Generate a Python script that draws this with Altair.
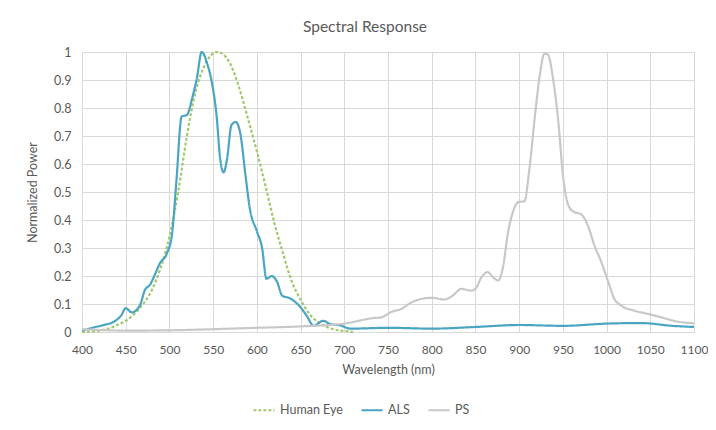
import altair as alt
import pandas as pd

# ALS response (wavelength nm, normalized power)
als_nm = [400, 413, 425, 436, 445, 450, 457, 466, 472, 478, 484, 489, 497, 503, 508, 514, 520, 526,
          531, 537, 543, 548, 554, 558, 562, 566, 571, 576, 581, 587, 592, 600, 606, 611, 617, 623,
          629, 638, 650, 657, 665, 676, 684, 695, 707, 750, 800, 850, 900, 950, 1000, 1040, 1075, 1100]
als_val = [0.005, 0.016, 0.025, 0.036, 0.06, 0.085, 0.07, 0.094, 0.15, 0.17, 0.21, 0.245, 0.28, 0.35,
           0.54, 0.77, 0.775, 0.835, 0.90, 1.0, 0.96, 0.90, 0.77, 0.62, 0.57, 0.62, 0.74, 0.75, 0.71,
           0.56, 0.44, 0.36, 0.30, 0.19, 0.20, 0.18, 0.13, 0.12, 0.088, 0.058, 0.022, 0.04, 0.028,
           0.024, 0.012, 0.015, 0.012, 0.018, 0.025, 0.022, 0.03, 0.032, 0.022, 0.018]

# PS response
ps_nm = [400, 450, 500, 550, 600, 650, 700, 734, 742, 754, 765, 777, 788, 800, 815, 824, 834, 845,
         850, 857, 864, 870, 876, 882, 887, 893, 899, 906, 912, 918, 924, 929, 933, 939, 945, 950,
         956, 962, 971, 979, 986, 994, 1002, 1009, 1017, 1032, 1048, 1063, 1078, 1100]
ps_val = [0.01, 0.005, 0.006, 0.01, 0.015, 0.02, 0.03, 0.05, 0.052, 0.072, 0.082, 0.106, 0.118,
          0.122, 0.116, 0.13, 0.154, 0.148, 0.154, 0.196, 0.214, 0.196, 0.184, 0.24, 0.35, 0.43,
          0.464, 0.467, 0.59, 0.77, 0.925, 0.995, 0.99, 0.90, 0.745, 0.564, 0.455, 0.43, 0.42,
          0.377, 0.31, 0.25, 0.178, 0.118, 0.094, 0.076, 0.064, 0.052, 0.039, 0.031]

# Human eye response
eye_nm = [400, 410, 420, 430, 440, 450, 460, 470, 480, 490, 500, 510, 520, 530, 540, 550, 555, 560,
          570, 580, 590, 600, 610, 620, 630, 640, 650, 660, 670, 680, 690, 700, 710]
eye_val = [0.0, 0.002, 0.005, 0.012, 0.025, 0.04, 0.065, 0.1, 0.15, 0.23, 0.34, 0.5, 0.7, 0.86,
           0.95, 0.995, 1.0, 0.995, 0.955, 0.87, 0.76, 0.645, 0.52, 0.39, 0.28, 0.18, 0.115, 0.065,
           0.035, 0.018, 0.008, 0.004, 0.0]

x_ticks = list(range(400, 1101, 50))
y_ticks = [round(i / 10, 1) for i in range(11)]

series_names = ["Human Eye", "ALS", "PS"]
series_colors = ["#a3c86b", "#4aa5c3", "#c8c8c8"]

rows = []
for nm, v in zip(eye_nm, eye_val):
    rows.append({"Wavelength": nm, "Power": v, "Series": "Human Eye"})
for nm, v in zip(als_nm, als_val):
    rows.append({"Wavelength": nm, "Power": v, "Series": "ALS"})
for nm, v in zip(ps_nm, ps_val):
    rows.append({"Wavelength": nm, "Power": v, "Series": "PS"})
df = pd.DataFrame(rows)

font = "Lato"
txt = "#595959"

chart = alt.Chart(df).mark_line(interpolate="monotone", strokeWidth=2.2).encode(
    x=alt.X("Wavelength:Q", title="Wavelength (nm)",
            scale=alt.Scale(domain=[400, 1100], nice=False, zero=False),
            axis=alt.Axis(values=x_ticks, tickCount=40, format="d", labelOverlap=False,
                          labelFlush=False, labelPadding=12, titlePadding=8, labelFontSize=12)),
    y=alt.Y("Power:Q", title="Normalized Power",
            scale=alt.Scale(domain=[0, 1], nice=False),
            axis=alt.Axis(values=y_ticks, tickCount=40, format="~g", labelOverlap=False,
                          labelFlush=False, labelPadding=11, titlePadding=14)),
    color=alt.Color("Series:N", title=None,
                    scale=alt.Scale(domain=series_names, range=series_colors),
                    legend=alt.Legend(orient="none", legendX=170, legendY=346, direction="horizontal",
                                      symbolType="stroke", symbolSize=450, symbolStrokeWidth=2,
                                      labelFontSize=12.5, labelColor=txt, labelFont=font,
                                      columnPadding=14)),
    strokeDash=alt.StrokeDash("Series:N", title=None,
                              scale=alt.Scale(domain=series_names, range=[[3, 2], [1, 0], [1, 0]]),
                              legend=None),
    order=alt.Order("Wavelength:Q"),
).properties(
    width=612, height=280,
    title=alt.TitleParams("Spectral Response", fontSize=15.5, font=font, color=txt,
                          fontWeight="normal", offset=11, dx=-23),
    padding={"left": 74, "top": 44, "right": 14, "bottom": 90},
    autosize=alt.AutoSizeParams(type="none"),
).configure_axis(
    grid=True, gridColor="#d9d9d9", domain=False, ticks=False,
    labelFont=font, labelFontSize=12.5, labelColor=txt,
    titleFont=font, titleFontSize=12.5, titleColor=txt, titleFontWeight="normal",
).configure_view(
    stroke="#d9d9d9"
)

chart.save("out.html", embed_options={"renderer": "svg", "actions": False})
